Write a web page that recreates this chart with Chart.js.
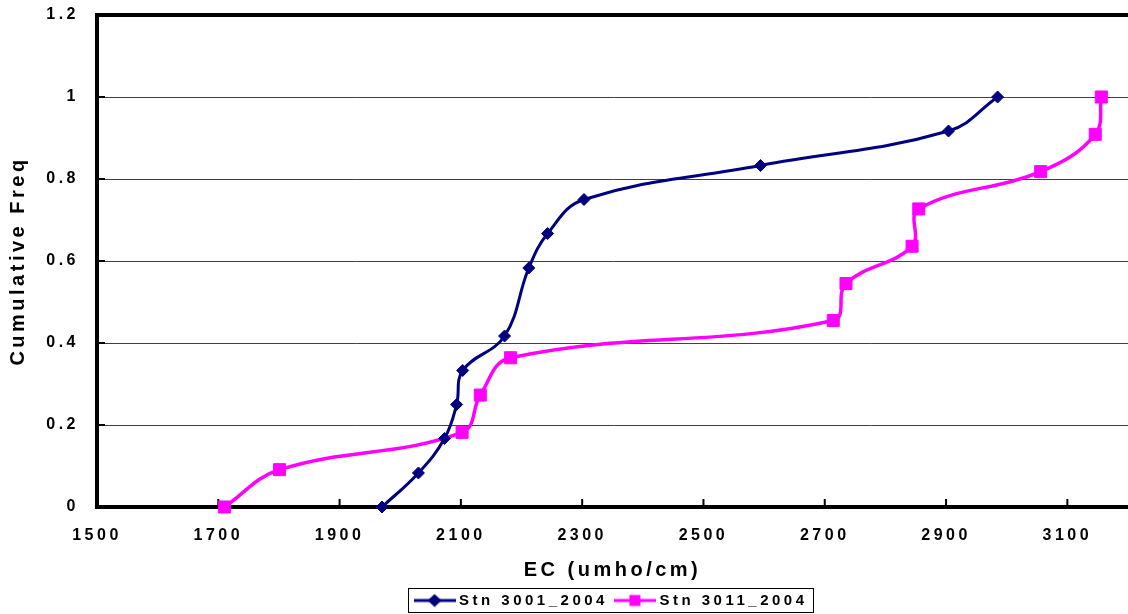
<!DOCTYPE html>
<html>
<head>
<meta charset="utf-8">
<script src="https://cdn.jsdelivr.net/npm/chart.js@4"></script>
<style>
  html, body { margin: 0; padding: 0; background: #fff; overflow: hidden; }
  #wrap { width: 1128px; height: 614px; position: relative; }
</style>
</head>
<body>
<div id="wrap"><canvas id="graph"></canvas></div>
<script>
// EC readings (umho/cm) and cumulative frequency per station, 2004
const ec3001 = [1970, 2030, 2073, 2093, 2103, 2172, 2212, 2243, 2303, 2594, 2904, 2985];
const freq3001 = [0, 0.083, 0.167, 0.25, 0.333, 0.417, 0.583, 0.667, 0.75, 0.833, 0.917, 1];

const ec3011 = [1710, 1801, 2102, 2132, 2182, 2714, 2735, 2844, 2855, 3056, 3146, 3156];
const freq3011 = [0, 0.091, 0.182, 0.273, 0.364, 0.455, 0.545, 0.636, 0.727, 0.818, 0.909, 1];

const seriesNames = ["Stn 3001_2004", "Stn 3011_2004"];
const xTicks = [1500, 1700, 1900, 2100, 2300, 2500, 2700, 2900, 3100];

const NAVY = "#000080";
const PINK = "#ff00ff";
const FONT = "'Liberation Sans', Arial, sans-serif";

// little line+marker pictures for the legend
function legendIcon(color, shape) {
  const c = document.createElement("canvas");
  c.width = 42;
  c.height = 14;
  const g = c.getContext("2d");
  g.strokeStyle = color;
  g.fillStyle = color;
  g.lineWidth = 3;
  g.beginPath();
  g.moveTo(0, 7);
  g.lineTo(42, 7);
  g.stroke();
  g.beginPath();
  if (shape === "diamond") {
    g.moveTo(21 - 7, 7);
    g.lineTo(21, 0.5);
    g.lineTo(21 + 7, 7);
    g.lineTo(21, 13.5);
    g.closePath();
  } else {
    g.rect(21 - 5.5, 1.5, 11, 11);
  }
  g.fill();
  return c;
}
const icons = [legendIcon(NAVY, "diamond"), legendIcon(PINK, "square")];

function pts(xs, ys) {
  return xs.map((v, i) => ({ x: v, y: ys[i] }));
}

// spaced-out lettering on every text
const spacing = {
  id: "spacing",
  beforeUpdate(chart) { chart.ctx.letterSpacing = "3.5px"; },
  beforeDraw(chart) { chart.ctx.letterSpacing = "3.5px"; },
};

// top border, inner tick marks, box round the legend
const frame = {
  id: "frame",
  beforeDatasetsDraw(chart) {
    const { ctx, chartArea: a, scales } = chart;
    ctx.save();
    ctx.strokeStyle = "#000";
    ctx.lineWidth = 2;
    ctx.beginPath();
    scales.x.ticks.forEach((t) => {
      const px = scales.x.getPixelForValue(t.value);
      if (px <= a.left + 3) return;
      ctx.moveTo(px, a.bottom);
      ctx.lineTo(px, a.bottom - 8);
    });
    scales.y.ticks.forEach((t) => {
      const py = scales.y.getPixelForValue(t.value);
      ctx.moveTo(a.left, py);
      ctx.lineTo(a.left + 8, py);
    });
    ctx.stroke();
    ctx.lineWidth = 4;
    ctx.beginPath();
    ctx.moveTo(a.left - 2, a.top);
    ctx.lineTo(a.right + 2, a.top);
    ctx.stroke();
    ctx.restore();
  },
  afterDraw(chart) {
    const hb = chart.legend && chart.legend.legendHitBoxes;
    if (!hb || !hb.length) return;
    const last = hb[hb.length - 1];
    const l = Math.round(hb[0].left - 10) + 0.5;
    const r = Math.round(last.left + last.width + 6) + 0.5;
    const t = Math.round(hb[0].top - 5) + 0.5;
    const b = Math.round(hb[0].top + hb[0].height + 4) + 0.5;
    const ctx = chart.ctx;
    ctx.save();
    ctx.strokeStyle = "#000";
    ctx.lineWidth = 1;
    ctx.strokeRect(l, t, r - l, b - t);
    ctx.restore();
  },
};

const config = {
  type: "scatter",
  data: {
    datasets: [
      {
        label: seriesNames[0],
        data: pts(ec3001, freq3001),
        showLine: true,
        tension: 0.4,
        borderColor: NAVY,
        backgroundColor: NAVY,
        borderWidth: 3,
        pointStyle: "rectRot",
        pointRadius: 6,
        pointBorderWidth: 1,
        pointBackgroundColor: NAVY,
        pointBorderColor: NAVY,
        clip: false,
      },
      {
        label: seriesNames[1],
        data: pts(ec3011, freq3011),
        showLine: true,
        tension: 0.4,
        borderColor: PINK,
        backgroundColor: PINK,
        borderWidth: 3.5,
        pointStyle: "rect",
        pointRadius: 8.5,
        pointBorderWidth: 1,
        pointBackgroundColor: PINK,
        pointBorderColor: PINK,
        clip: false,
      },
    ],
  },
  options: {
    responsive: true,
    maintainAspectRatio: false,
    animation: false,
    events: [],
    layout: { autoPadding: false, padding: { top: 15, right: 0, left: 0, bottom: -4 } },
    scales: {
      x: {
        type: "linear",
        min: 1500,
        max: 3200,
        afterBuildTicks: (scale) => {
          scale.ticks = xTicks.map((v) => ({ value: v }));
        },
        afterFit: (scale) => {
          scale.height = 76;
          scale.paddingLeft = 0;
          scale.paddingRight = 0;
        },
        grid: { display: false, drawTicks: false },
        border: { display: true, color: "#000", width: 4 },
        ticks: {
          padding: 19,
          maxRotation: 0,
          color: "#000",
          font: { family: FONT, size: 16, weight: "bold" },
          callback: (v) => String(v),
        },
        title: {
          display: true,
          text: "EC (umho/cm)",
          color: "#000",
          font: { family: FONT, size: 20, weight: "bold" },
          padding: { top: 0, bottom: 1 },
        },
      },
      y: {
        min: 0,
        max: 1.2,
        afterFit: (scale) => {
          scale.width = 97;
          scale.paddingTop = 0;
          scale.paddingBottom = 0;
        },
        grid: { color: "#404040", lineWidth: 1, drawTicks: false },
        border: { display: true, color: "#000", width: 4 },
        ticks: {
          stepSize: 0.2,
          padding: 18,
          color: "#000",
          font: { family: FONT, size: 16, weight: "bold" },
          callback: (v) => String(Math.round(v * 10) / 10),
        },
        title: {
          display: true,
          text: "Cumulative Freq",
          color: "#000",
          font: { family: FONT, size: 20, weight: "bold" },
          padding: { top: 6, bottom: 0 },
        },
      },
    },
    plugins: {
      tooltip: { enabled: false },
      legend: {
        position: "bottom",
        fullSize: false,
        labels: {
          usePointStyle: true,
          pointStyleWidth: 34,
          padding: 10,
          color: "#000",
          font: { family: FONT, size: 15, weight: "bold" },
          generateLabels(chart) {
            const items = Chart.defaults.plugins.legend.labels.generateLabels(chart);
            items.forEach((it, i) => { it.pointStyle = icons[i]; });
            return items;
          },
        },
      },
    },
  },
  plugins: [spacing, frame],
};

window.onload = () => {
  new Chart(document.getElementById("graph"), config);
};
</script>
</body>
</html>
